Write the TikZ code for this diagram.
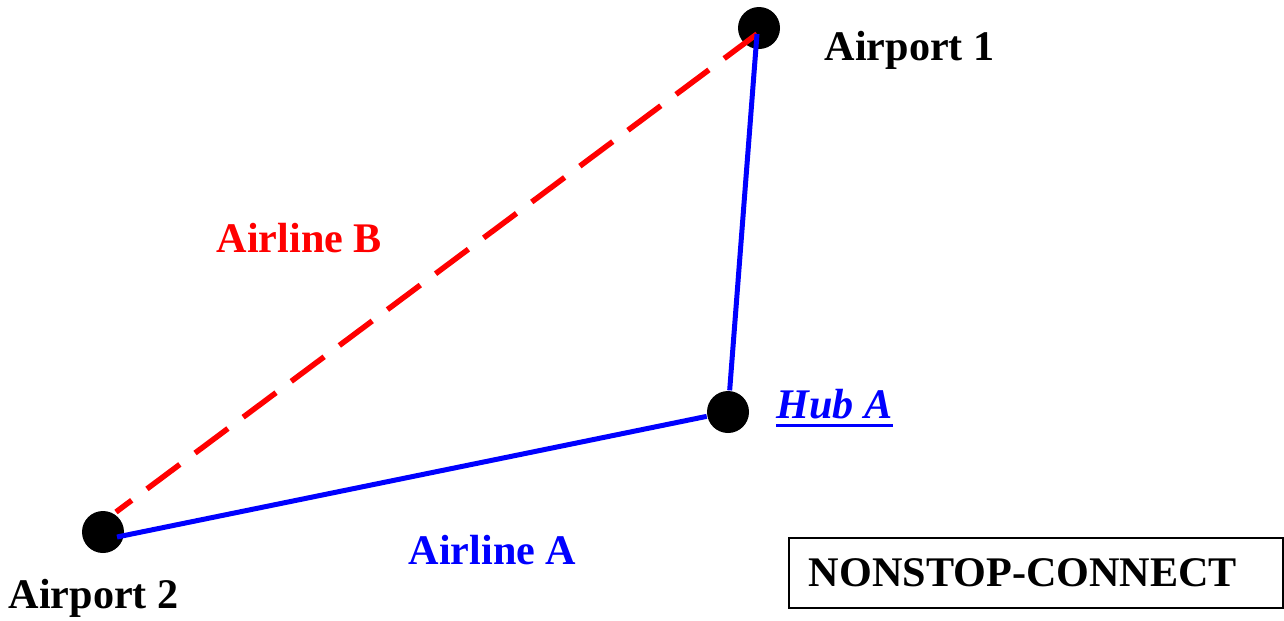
\documentclass[tikz,border=0pt]{standalone}
\usepackage{fontspec}
\setmainfont{Liberation Serif}
\usepackage{xcolor}
\usepackage{tikz}
\usetikzlibrary{positioning}
\tikzset{
  % --- airports and hub ------------------------------------------------------
  port/.style={circle,fill=black,inner sep=0pt,minimum size=4.2mm},
  % --- routes ----------------------------------------------------------------
  routea/.style={blue,line width=0.5mm},
  routeb/.style={red,line width=0.55mm,dash pattern=on 4.1mm off 1.9mm},
  % --- texts -----------------------------------------------------------------
  lab/.style={font=\fontsize{12pt}{14pt}\selectfont\bfseries,inner sep=0pt},
  uline/.style={blue,line width=0.3mm},
  boxlab/.style={lab,draw,line width=0.5pt,anchor=north west,inner xsep=2mm,
                 text width=45.4mm,minimum height=7mm,align=left},
}
\begin{document}
\begin{tikzpicture}[x=0.1mm, y=-0.1mm]
  \useasboundingbox (0,0) rectangle (1284,620);

  \node[port] (ap1) at (759,28)  {};
  \node[port] (hub) at (728,412) {};
  \node[port] (ap2) at (103,532) {};

  % line ends lying inside the airport dots
  \coordinate (ap1e)  at (757,34);
  \coordinate (ap2a)  at (117,537);
  \coordinate (ap2b)  at (116,512);

  \draw[routeb] (ap1e) -- (ap2b);
  \draw[routea] (ap1e) -- (hub);
  \draw[routea] (ap2a) -- (hub);

  \node[lab,anchor=base west] (l1) at (824,60)  {Airport 1};
  \node[lab,anchor=base west] (l2) at (8,608)   {Airport 2};
  \node[lab,anchor=base west,text=blue] (lh) at (776,418) {\itshape Hub A};
  \draw[uline] ([yshift=-0.6mm]lh.south west) -- ([yshift=-0.6mm]lh.south east);
  \node[lab,anchor=base west,text=red]  (lb) at (216,252) {Airline B};
  \node[lab,anchor=base west,text=blue] (la) at (408,564) {Airline A};

  \node[boxlab] (kind) at (788,537) {NONSTOP-CONNECT};
\end{tikzpicture}
\end{document}
